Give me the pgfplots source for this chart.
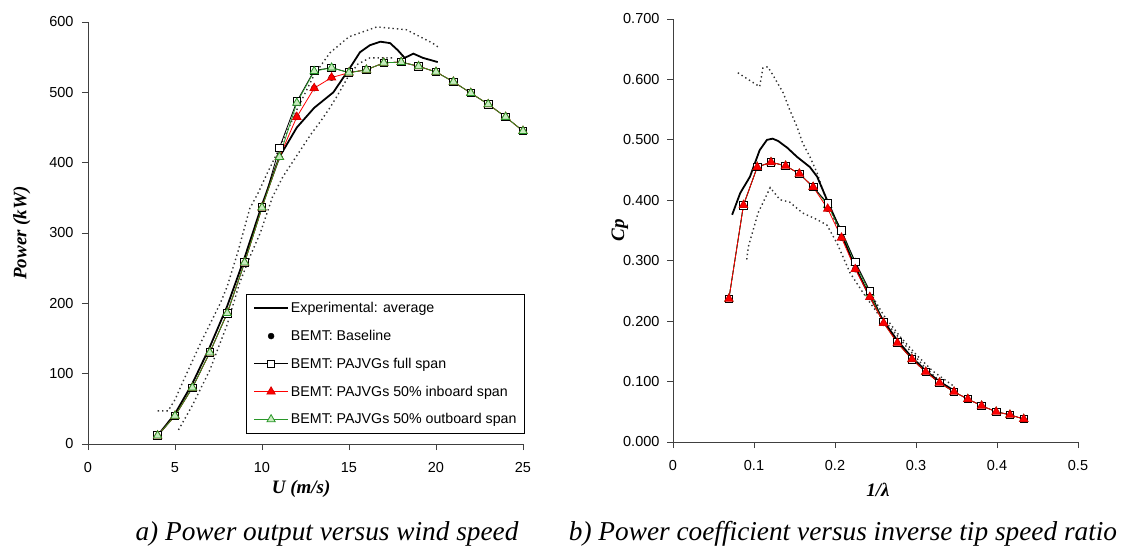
\documentclass[border=0pt]{standalone}
\usepackage{pgfplots}
\pgfplotsset{compat=1.18}
\usepackage{fontspec}
\setmainfont{Liberation Sans}
\newfontfamily\timesf{Liberation Serif}
\definecolor{vgreen}{RGB}{40,150,40}
\definecolor{vgreenfill}{RGB}{200,235,190}

\pgfplotsset{
  myaxis/.style={
    scale only axis,
    axis lines=left,
    axis line style={-, line width=1pt, black!75},
    tick align=outside,
    major tick length=6pt,
    tick style={line width=1pt, black!75},
    ticklabel style={font=\fontsize{14.5}{17}\selectfont},
    xticklabel style={yshift=-9pt},
    /pgf/number format/assume math mode=true,
    clip=false,
    label style={font=\timesf\bfseries\itshape\fontsize{19}{22}\selectfont},
  },
  longlegend/.style={legend image code/.code={\draw[mark repeat=2,mark phase=2,##1] plot coordinates {(0pt,0pt) (17pt,0pt) (34pt,0pt)};}},
  baselegend/.style={legend image code/.code={\draw[##1] plot coordinates {(17pt,0pt)};}},
  dotsty/.style={black!80, line width=1.4pt, dash pattern=on 1.4pt off 3pt, forget plot},
  expsty/.style={black, line width=1.8pt},
  basesty/.style={black, only marks, mark=*, mark size=3pt},
  fullsty/.style={black, line width=0.8pt, mark=square*, mark size=3.8pt, mark options={fill=white, solid, line width=0.8pt}},
  insty/.style={red, line width=0.8pt, mark=triangle*, mark size=4.8pt, mark options={fill=red, draw=red!85!black, solid}},
  outsty/.style={vgreen, line width=0.8pt, mark=triangle*, mark size=4.8pt, mark options={fill=vgreenfill, draw=vgreen, solid, line width=0.8pt}},
}

\begin{document}
\begin{tikzpicture}[x=1pt,y=1pt]
\path[use as bounding box] (0,0) rectangle (1128,550);

% ---------------- (a) power ----------------
\begin{axis}[myaxis,
  at={(88pt,106pt)}, anchor=south west,
  width=435pt, height=422pt,
  xmin=0, xmax=25, ymin=0, ymax=600,
  xtick={0,5,10,15,20,25}, ytick={0,100,200,300,400,500,600},
  yticklabel style={xshift=-5pt},
  xlabel={U (m/s)}, ylabel={Power (kW)},
  xlabel style={at={(axis description cs:0.49,-0.107)}, anchor=center},
  ylabel style={at={(axis description cs:-0.152,0.5)}, anchor=center},
  legend style={name=pwrleg, at={(axis description cs:0.3655,0.355)}, anchor=north west,
    draw=none, font=\fontsize{14.2}{17}\selectfont,
    row sep=12pt, inner xsep=6pt, inner ysep=6pt},
  legend cell align=left,
  longlegend,
]
% upper bound
\addplot[dotsty] coordinates {(4.0,47) (4.6,47) (5.0,63) (5.5,91) (6.0,118) (6.5,145) (7.0,170) (7.6,200) (8.0,224) (8.6,272) (9.3,335) (9.8,358) (10.3,385) (11,420) (12,475) (13,525) (13.9,556) (15,579) (16.6,593) (18.3,589) (19.8,570) (20.2,563)};
% lower bound
\addplot[dotsty] coordinates {(5.2,20) (6,55) (7,105) (8,170) (8.7,228) (9.3,266) (9.9,300) (10.6,351) (11.2,380) (12,410) (12.8,440) (13.4,460) (13.9,478) (14.3,494) (14.9,520) (15.5,540) (16.2,549) (17.5,549)};
% experimental
\addplot[expsty] coordinates {(4.1,15) (5,43) (6,86) (7,138) (8,196) (9,265) (10,340) (11,408) (12,450) (13,478) (14.1,500) (15.06,535) (15.63,557) (16.2,567) (16.8,572) (17.36,570) (17.8,560) (18.2,549) (18.7,555) (19.25,549) (20.1,543)};
\addlegendentry{Experimental: average}
% baseline
\addplot[basesty, baselegend] coordinates {(4,12) (5,40) (6,80) (7,130) (8,186) (9,258) (10,336) (11,408) (12,465) (13,506) (14,521) (15,528) (16,532) (17,542) (18,543) (19,537) (20,529) (21,515) (22,499) (23,483) (24,465) (25,445)};
\addlegendentry{BEMT: Baseline}
% full span
\addplot[fullsty] coordinates {(4,12) (5,40) (6,80) (7,130) (8,186) (9,258) (10,336) (11,421) (12,487) (13,531) (14,535) (15,528) (16,532) (17,542) (18,543) (19,537) (20,529) (21,515) (22,499) (23,483) (24,465) (25,445)};
\addlegendentry{BEMT: PAJVGs full span}
% inboard
\addplot[insty] coordinates {(4,12) (5,40) (6,80) (7,130) (8,186) (9,258) (10,336) (11,408) (12,465) (13,506) (14,521) (15,528) (16,532) (17,542) (18,543) (19,537) (20,529) (21,515) (22,499) (23,483) (24,465) (25,445)};
\addlegendentry{BEMT: PAJVGs 50\% inboard span}
% outboard
\addplot[outsty] coordinates {(4,12) (5,40) (6,80) (7,130) (8,186) (9,258) (10,336) (11,408) (12,485) (13,530) (14,535) (15,528) (16,532) (17,542) (18,543) (19,537) (20,529) (21,515) (22,499) (23,483) (24,465) (25,445)};
\addlegendentry{BEMT: PAJVGs 50\% outboard span}
\end{axis}
\draw[line width=1pt, black] (pwrleg.south west) rectangle (pwrleg.north east);

% ---------------- (b) Cp ----------------
\begin{axis}[myaxis,
  at={(673pt,108pt)}, anchor=south west,
  width=405pt, height=423pt,
  xmin=0, xmax=0.5, ymin=0, ymax=0.7,
  xtick={0,0.1,0.2,0.3,0.4,0.5}, ytick={0,0.1,0.2,0.3,0.4,0.5,0.6,0.7},
  yticklabel style={xshift=-4pt, /pgf/number format/.cd, fixed, fixed zerofill, precision=3},
  xticklabel style={/pgf/number format/.cd, fixed, precision=1},
  xlabel={1/λ}, ylabel={Cp},
  xlabel style={at={(axis description cs:0.506,-0.113)}, anchor=center},
  ylabel style={at={(axis description cs:-0.131,0.5)}, anchor=center},
]
\addplot[dotsty] coordinates {(0.080,0.611) (0.0975,0.596) (0.107,0.588) (0.111,0.619) (0.117,0.621) (0.123,0.608) (0.136,0.578) (0.144,0.550) (0.153,0.522) (0.160,0.495) (0.169,0.472) (0.178,0.445) (0.185,0.417) (0.20,0.365) (0.22,0.305) (0.24,0.255) (0.26,0.21) (0.28,0.175) (0.30,0.145) (0.32,0.118) (0.347,0.092)};
\addplot[dotsty] coordinates {(0.091,0.302) (0.093,0.323) (0.105,0.379) (0.120,0.421) (0.132,0.401) (0.144,0.397) (0.160,0.379) (0.178,0.368) (0.190,0.359) (0.2025,0.329) (0.2185,0.280) (0.2346,0.247) (0.252,0.214) (0.268,0.190) (0.29,0.155) (0.31,0.125) (0.33,0.10) (0.347,0.083)};
\addplot[expsty] coordinates {(0.073,0.376) (0.083,0.412) (0.095,0.439) (0.107,0.483) (0.116,0.500) (0.123,0.502) (0.130,0.498) (0.141,0.487) (0.153,0.472) (0.169,0.455) (0.178,0.439) (0.190,0.401) (0.205,0.355) (0.222,0.298) (0.240,0.248) (0.259,0.202) (0.277,0.168) (0.295,0.140) (0.312,0.118) (0.329,0.100) (0.347,0.085)};
\addplot[basesty] coordinates {(0.069,0.237) (0.087,0.392) (0.104,0.455) (0.121,0.463) (0.139,0.457) (0.156,0.444) (0.173,0.422) (0.191,0.386) (0.208,0.338) (0.225,0.286) (0.243,0.240) (0.260,0.197) (0.277,0.164) (0.295,0.137) (0.312,0.116) (0.329,0.098) (0.347,0.083) (0.364,0.071) (0.381,0.060) (0.399,0.050) (0.416,0.045) (0.433,0.038)};
\addplot[outsty] coordinates {(0.069,0.237) (0.087,0.392) (0.104,0.455) (0.121,0.463) (0.139,0.457) (0.156,0.444) (0.173,0.422) (0.191,0.392) (0.208,0.348) (0.225,0.296) (0.243,0.246) (0.260,0.197) (0.277,0.164) (0.295,0.137) (0.312,0.116) (0.329,0.098) (0.347,0.083) (0.364,0.071) (0.381,0.060) (0.399,0.050) (0.416,0.045) (0.433,0.038)};
\addplot[fullsty] coordinates {(0.069,0.237) (0.087,0.392) (0.104,0.455) (0.121,0.463) (0.139,0.457) (0.156,0.444) (0.173,0.422) (0.191,0.395) (0.208,0.350) (0.225,0.298) (0.243,0.250) (0.260,0.199) (0.277,0.165) (0.295,0.137) (0.312,0.116) (0.329,0.098) (0.347,0.083) (0.364,0.071) (0.381,0.060) (0.399,0.050) (0.416,0.045) (0.433,0.038)};
\addplot[insty] coordinates {(0.069,0.237) (0.087,0.392) (0.104,0.455) (0.121,0.463) (0.139,0.457) (0.156,0.444) (0.173,0.422) (0.191,0.386) (0.208,0.338) (0.225,0.286) (0.243,0.240) (0.260,0.197) (0.277,0.164) (0.295,0.137) (0.312,0.116) (0.329,0.098) (0.347,0.083) (0.364,0.071) (0.381,0.060) (0.399,0.050) (0.416,0.045) (0.433,0.038)};
\end{axis}

\node[anchor=base, font=\timesf\itshape\fontsize{27.3}{31}\selectfont] at (327,10) {a) Power output versus wind speed};
\node[anchor=base, font=\timesf\itshape\fontsize{27.3}{31}\selectfont] at (843,10) {b) Power coefficient versus inverse tip speed ratio};
\end{tikzpicture}
\end{document}
